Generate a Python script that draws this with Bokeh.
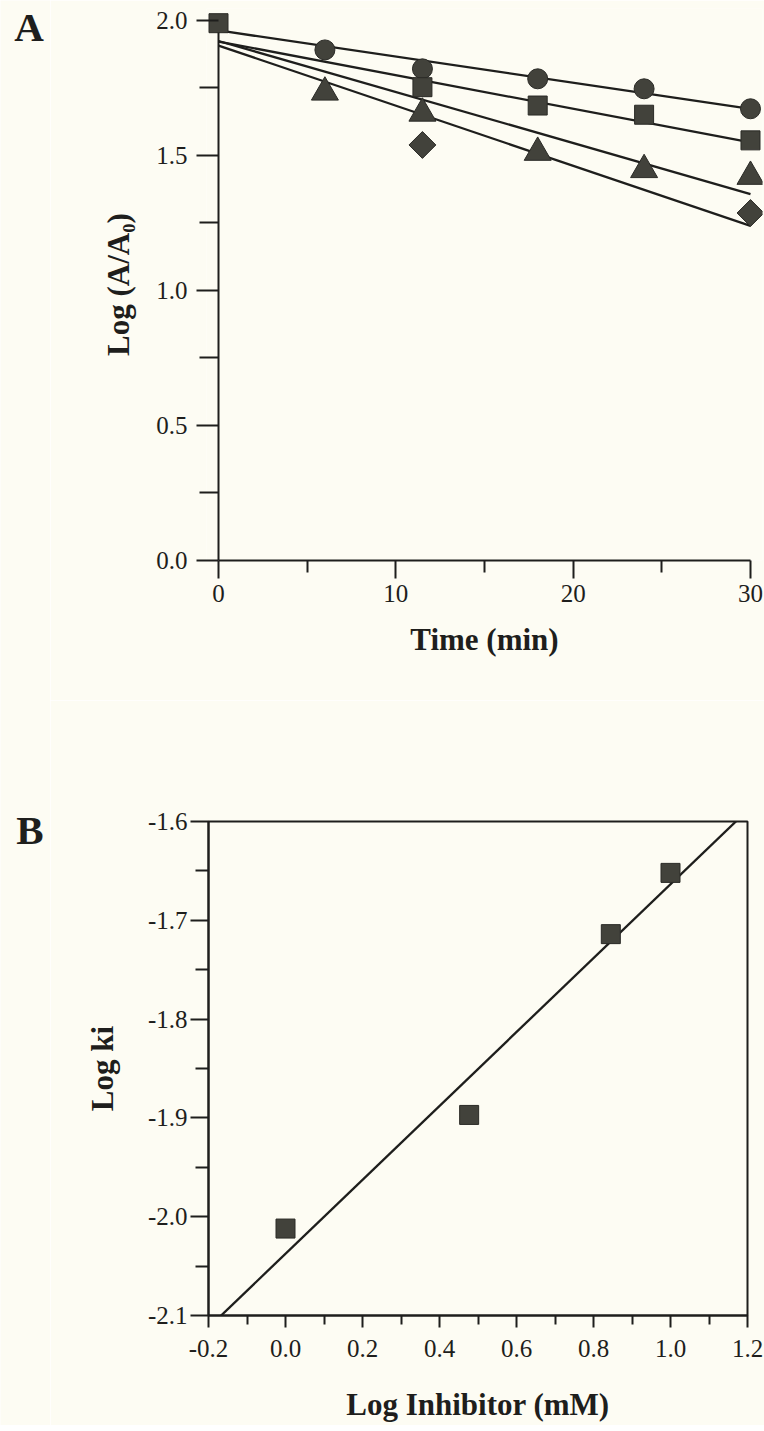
import numpy as np
from bokeh.plotting import figure
from bokeh.layouts import column, row
from bokeh.models import FixedTicker, PrintfTickFormatter, Range1d
from bokeh.core.properties import value
from bokeh.embed import file_html
from bokeh.resources import INLINE

# ---------------- Panel A data ----------------
circle_t = [6, 11.5, 18, 24, 30]
circle_log = [1.891, 1.821, 1.784, 1.747, 1.673]
square_t = [0, 11.5, 18, 24, 30]
square_log = [1.99, 1.753, 1.685, 1.651, 1.556]
triangle_t = [6, 11.5, 18, 24, 30]
triangle_log = [1.734, 1.656, 1.511, 1.447, 1.422]
diamond_t = [11.5, 30]
diamond_log = [1.539, 1.287]
# regression lines (circle, square, triangle, diamond)
fit_intercepts_a = [1.963, 1.922, 1.924, 1.907]
fit_slopes_a = [-0.00967, -0.01245, -0.01889, -0.02226]
time_span = [0, 30]
time_ticks = [0, 10, 20, 30]
time_minor = [5, 15, 25]
loga_ticks = [0.0, 0.5, 1.0, 1.5, 2.0]
loga_minor = [0.25, 0.75, 1.25, 1.75]

# ---------------- Panel B data ----------------
log_inhib = [0.0, 0.477, 0.845, 1.0]
log_ki = [-2.012, -1.897, -1.714, -1.652]
fit_slope_b = 0.374
fit_intercept_b = -2.0375
inhib_ticks = [-0.2, 0.0, 0.2, 0.4, 0.6, 0.8, 1.0, 1.2]
inhib_minor = [-0.1, 0.1, 0.3, 0.5, 0.7, 0.9, 1.1]
ki_ticks = [-2.1, -2.0, -1.9, -1.8, -1.7, -1.6]
ki_minor = [-2.05, -1.95, -1.85, -1.75, -1.65]

panel_letters = ["A", "B"]

BG = "#fdfcf3"
INK = "#1e1e1c"
MFILL = "#42423b"
MLINE = "#2a2a26"
SERIF = "Liberation Serif"


def style_axis(ax, tick_out, minor_out, label, standoff, label_standoff):
    ax.axis_line_width = 2
    ax.axis_line_color = INK
    ax.major_tick_line_width = 2
    ax.minor_tick_line_width = 2
    ax.major_tick_line_color = INK
    ax.minor_tick_line_color = INK
    ax.major_tick_in = 0
    ax.minor_tick_in = 0
    ax.major_tick_out = tick_out
    ax.minor_tick_out = minor_out
    ax.major_label_text_font = SERIF
    ax.major_label_text_font_size = "25px"
    ax.major_label_text_color = INK
    ax.major_label_standoff = standoff
    ax.axis_label = label
    ax.axis_label_text_font = SERIF
    ax.axis_label_text_font_style = "bold"
    ax.axis_label_text_font_size = "31px"
    ax.axis_label_text_color = INK
    ax.axis_label_standoff = label_standoff


# ================= Panel A =================
pA = figure(width=714, height=700, title=None,
            x_range=Range1d(-0.677, 30.677), y_range=Range1d(0, 2.0444),
            output_backend="svg", toolbar_location=None,
            min_border_left=156, min_border_right=2,
            min_border_top=8, min_border_bottom=140)
pA.background_fill_color = BG
pA.border_fill_color = BG
pA.outline_line_color = None
pA.grid.visible = False

xa = pA.xaxis[0]
style_axis(xa, 18, 12, "Time (min)", 6, 17)
xa.bounds = (time_span[0], time_span[1])
xa.ticker = FixedTicker(ticks=time_ticks, minor_ticks=time_minor)

ya = pA.yaxis[0]
style_axis(ya, 10, 7, "Log (A/A\u2080)", 9, 17)
ya.bounds = (loga_ticks[0], loga_ticks[-1])
ya.ticker = FixedTicker(ticks=loga_ticks, minor_ticks=loga_minor)
ya.formatter = PrintfTickFormatter(format="%.1f")
ya.axis_line_color = None
ya.major_tick_in = 12
ya.minor_tick_in = 12

# y axis line at time zero
pA.segment(x0=[time_span[0]], y0=[loga_ticks[0]], x1=[time_span[0]], y1=[loga_ticks[-1]],
           line_color=INK, line_width=2)

# regression lines
t_line = np.array(time_span, dtype=float)
for b, m in zip(fit_intercepts_a, fit_slopes_a):
    pA.line(t_line, b + m * t_line, line_color=INK, line_width=2.3)

pA.scatter(circle_t, circle_log, marker="circle", size=20,
           fill_color=MFILL, line_color=MLINE, line_width=1)
pA.scatter(triangle_t, triangle_log, marker="triangle", size=27,
           fill_color=MFILL, line_color=MLINE, line_width=1)
pA.scatter(diamond_t, diamond_log, marker="square", size=19, angle=np.pi / 4,
           fill_color=MFILL, line_color=MLINE, line_width=1)
pA.scatter(square_t, square_log, marker="square", size=19,
           fill_color=MFILL, line_color=MLINE, line_width=1)

# ================= Panel B =================
pB = figure(width=714, height=725, title=None,
            x_range=Range1d(inhib_ticks[0], inhib_ticks[-1]),
            y_range=Range1d(ki_ticks[0], ki_ticks[-1]),
            output_backend="svg", toolbar_location=None,
            min_border_left=158, min_border_right=17,
            min_border_top=121, min_border_bottom=110)
pB.background_fill_color = BG
pB.border_fill_color = BG
pB.outline_line_color = INK
pB.outline_line_width = 2
pB.grid.visible = False

xb = pB.xaxis[0]
style_axis(xb, 12, 9, "Log Inhibitor (mM)", 12, 27)
xb.ticker = FixedTicker(ticks=inhib_ticks, minor_ticks=inhib_minor)
xb.formatter = PrintfTickFormatter(format="%.1f")

yb = pB.yaxis[0]
style_axis(yb, 18, 13, "Log ki", 3, 25)
yb.ticker = FixedTicker(ticks=ki_ticks, minor_ticks=ki_minor)
yb.formatter = PrintfTickFormatter(format="%.1f")

x_line = np.array([inhib_ticks[0], inhib_ticks[-1]], dtype=float)
pB.line(x_line, fit_intercept_b + fit_slope_b * x_line, line_color=INK, line_width=2.3)
pB.scatter(log_inhib, log_ki, marker="square", size=19,
           fill_color=MFILL, line_color=MLINE, line_width=1)

# ================= panel letters (left strip, pixel coordinates from top) =================
strip_h = 700 + 725
letters = figure(width=50, height=strip_h, title=None,
                 x_range=Range1d(0, 50), y_range=Range1d(strip_h, 0),
                 x_axis_type=None, y_axis_type=None,
                 output_backend="svg", toolbar_location=None,
                 min_border_left=0, min_border_right=0,
                 min_border_top=0, min_border_bottom=0)
letters.background_fill_color = BG
letters.border_fill_color = BG
letters.outline_line_color = None
letters.grid.visible = False
letters.text(x=[28.5, 29.5], y=[26, 829.5], text=panel_letters,
             text_font=value(SERIF), text_font_style="bold",
             text_font_size="41px", text_color=INK,
             text_align="center", text_baseline="middle")

layout = row(letters, column(row(pA), row(pB), spacing=0), spacing=0)
open("out.html", "w").write(file_html(layout, INLINE))
